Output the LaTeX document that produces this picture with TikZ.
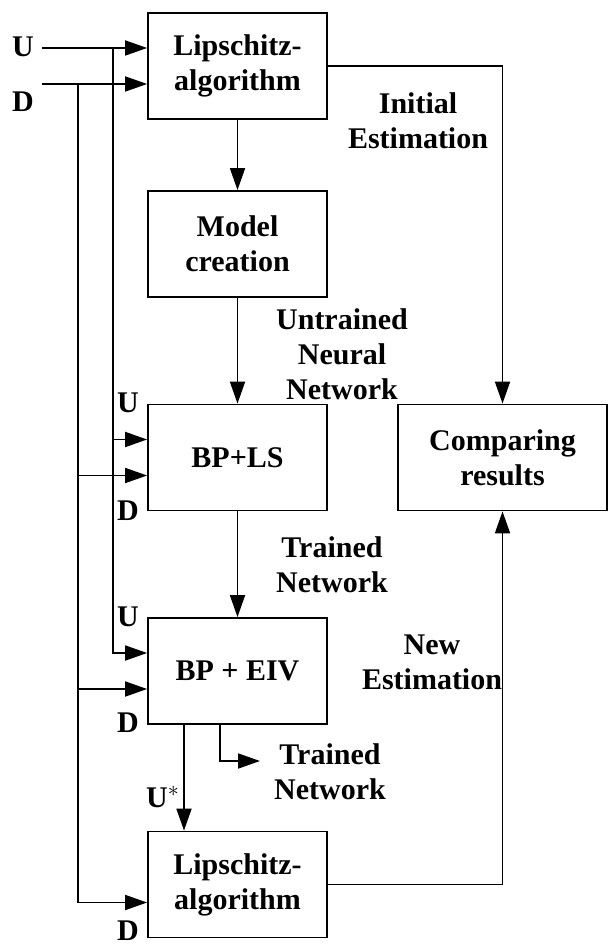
\documentclass[tikz,border=0pt]{standalone}
\usepackage{fontspec}
\setmainfont{Liberation Serif}
\usetikzlibrary{arrows.meta}

\begin{document}
\begin{tikzpicture}[x=0.5pt, y=-0.5pt,
	box/.style={draw, line width=0.9pt, minimum width=89.5pt, minimum height=53pt, align=center},
	lbl/.style={align=center},
	every node/.style={font=\fontsize{15}{17.5}\selectfont\bfseries},
	every path/.style={line width=0.9pt, -{Triangle[length=11pt,width=7.5pt]}}]
	\useasboundingbox (0,0) rectangle (608,945);
	% boxes
	\node[box] (lip1) at (237.5, 66) {Lipschitz-\\algorithm};
	\node[box] (model) at (237.5, 244) {Model\\creation};
	\node[box] (bpls) at (237.5, 457.5) {BP+LS};
	\node[box] (bpeiv) at (237.5, 671) {BP + EIV};
	\node[box] (lip2) at (237.5, 884.5) {Lipschitz-\\algorithm};
	\node[box, minimum width=104.5pt] (comp) at (502.5, 457.5) {Comparing\\results};
	% inputs
	\node (u0) at (23, 47) {U};
	\node (d0) at (23, 102) {D};
	\node (u1) at (128, 403) {U};
	\node (d1) at (128, 511) {D};
	\node (u2) at (128, 617) {U};
	\node (d2) at (128, 723) {D};
	\node (d3) at (128, 931) {D};
	\node (ustar) at (163, 797) {U$^{\ast}$};
	\coordinate (uin) at (42, 48);
	\coordinate (din) at (42, 84);
	\coordinate (ubus) at (113, 48);
	\coordinate (dbus) at (78, 84);
	\coordinate (tnout) at (260, 761);
	% labels
	\node[lbl] (init) at (418, 121) {Initial\\Estimation};
	\node[lbl] (untr) at (342, 354) {Untrained\\Neural\\Network};
	\node[lbl] (trn1) at (332, 565) {Trained\\Network};
	\node[lbl] (newest) at (432, 662) {New\\Estimation};
	\node[lbl] (trn2) at (330, 772) {Trained\\Network};
	% main chain
	\draw (lip1) to (model);
	\draw (model) to (bpls);
	\draw (bpls) to (bpeiv);
	\draw ([xshift=-26.75pt]bpeiv.south) to ([xshift=-26.75pt]lip2.north);
	\draw ([xshift=-8.75pt]bpeiv.south) |- (tnout);
	\draw (lip1.east) -| (comp.north);
	\draw (lip2.east) -| (comp.south);
	% U and D lines
	\draw (uin) to ([yshift=9pt]lip1.west);
	\draw (din) to ([yshift=-9pt]lip1.west);
	\draw (ubus) |- ([yshift=9pt]bpeiv.west);
	\draw (dbus) |- ([yshift=-9pt]lip2.west);
	\draw ([yshift=9pt]bpls.west -| ubus) to ([yshift=9pt]bpls.west);
	\draw ([yshift=-9pt]bpls.west -| dbus) to ([yshift=-9pt]bpls.west);
	\draw ([yshift=-9pt]bpeiv.west -| dbus) to ([yshift=-9pt]bpeiv.west);
\end{tikzpicture}
\end{document}
